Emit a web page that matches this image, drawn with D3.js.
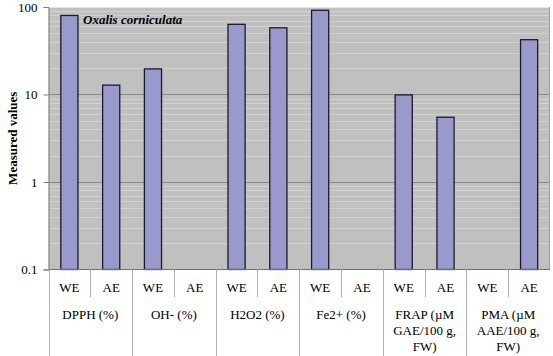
<!DOCTYPE html>
<html><head><meta charset="utf-8">
<script src="https://cdn.jsdelivr.net/npm/d3@7"></script>
<style>body{margin:0;background:#fff;}</style>
</head><body><svg id="c" width="553" height="356"></svg>
<script>
const groups = ["DPPH (%)", "OH- (%)", "H2O2 (%)", "Fe2+ (%)", "FRAP (µM|GAE/100 g,|FW)", "PMA (µM|AAE/100 g,|FW)"];
const extracts = ["WE", "AE"];
const valuesWE = [80, 19.6, 63.4, 91.7, 9.9, null];
const valuesAE = [12.8, null, 57.9, null, 5.5, 42.3];
const yTicks = [0.1, 1, 10, 100];
const title = "Oxalis corniculata";
const yLabel = "Measured values";

const FONT = "Liberation Serif";
const svg = d3.select("#c");
const L = 48.5, R = 550, T = 7, B = 269.5;
const slots = [];
groups.forEach((g, gi) => extracts.forEach((e, ei) => slots.push({g: gi, e, v: ei === 0 ? valuesWE[gi] : valuesAE[gi]})));
const x = d3.scaleBand().domain(d3.range(slots.length)).range([L, R]).paddingInner(0.59).paddingOuter(0.295);
const xs = d3.scaleLinear().domain([0, slots.length]).range([L, R]);
const y = d3.scaleLog().domain([0.1, 100]).range([B, T]);

svg.append("rect").attr("x", L).attr("y", T).attr("width", R - L).attr("height", B - T).attr("fill", "#c0c0c0");
const minors = [];
[0.1, 1, 10].forEach(d => { for (let k = 2; k <= 9; k++) minors.push(d * k); });
svg.append("g").selectAll("line").data(minors).join("line")
  .attr("x1", L).attr("x2", R).attr("y1", d => Math.round(y(d)) + 0.5).attr("y2", d => Math.round(y(d)) + 0.5)
  .attr("stroke", "#d2d2d2").attr("stroke-width", 1);
svg.append("g").selectAll("line").data([1, 10]).join("line")
  .attr("x1", L).attr("x2", R).attr("y1", d => Math.round(y(d)) + 0.5).attr("y2", d => Math.round(y(d)) + 0.5)
  .attr("stroke", "#8a8a8a").attr("stroke-width", 1);
svg.append("line").attr("x1", L).attr("x2", R).attr("y1", T + 0.5).attr("y2", T + 0.5).attr("stroke", "#e6e6e6");
svg.append("line").attr("x1", R - 0.5).attr("x2", R - 0.5).attr("y1", T).attr("y2", B).attr("stroke", "#a0a0a0");

svg.append("g").selectAll("rect").data(slots.map((s, i) => ({...s, i})).filter(s => s.v != null)).join("rect")
  .attr("x", d => x(d.i)).attr("width", x.bandwidth())
  .attr("y", d => y(d.v)).attr("height", d => B - y(d.v))
  .attr("fill", "#9999cc").attr("stroke", "#1a1a2a").attr("stroke-width", 1.3);

const ya = svg.append("g").attr("transform", `translate(${L},0)`)
  .call(d3.axisLeft(y).tickValues(yTicks).tickFormat(d => String(d)).tickSize(5).tickPadding(6));
ya.attr("font-family", FONT).attr("font-size", 13);
ya.select(".domain").attr("stroke", "#808080");
ya.selectAll(".tick line").attr("stroke", "#808080");
ya.selectAll(".tick text").attr("font-family", FONT).attr("font-size", 13).attr("fill", "#000");

svg.append("line").attr("x1", L).attr("x2", R).attr("y1", B).attr("y2", B).attr("stroke", "#707070");

const sep = svg.append("g").attr("stroke", "#b0b0b0");
d3.range(slots.length).forEach(i => {
  const xx = Math.round(xs(i)) + 0.5;
  const isGroup = i % 2 === 0;
  sep.append("line").attr("x1", xx).attr("x2", xx).attr("y1", B).attr("y2", isGroup ? 356 : 297);
});

svg.append("g").selectAll("text").data(slots.map((s, i) => ({...s, i}))).join("text")
  .attr("x", d => xs(d.i + 0.5)).attr("y", 292).attr("text-anchor", "middle")
  .attr("font-family", FONT).attr("font-size", 13).text(d => d.e);

const gl = svg.append("g");
groups.forEach((g, gi) => {
  const t = gl.append("text").attr("text-anchor", "middle").attr("font-family", FONT).attr("font-size", 13);
  g.split("|").forEach((ln, li) => t.append("tspan").attr("x", xs(gi * 2 + 1)).attr("y", 319 + li * 16).text(ln));
});

svg.append("text").attr("x", 83).attr("y", 24).attr("font-family", FONT).attr("font-size", 13).attr("font-weight", "bold").attr("font-style", "italic").text(title);

svg.append("text").attr("transform", `translate(17,${(T + B) / 2}) rotate(-90)`).attr("text-anchor", "middle")
  .attr("font-family", FONT).attr("font-size", 13).attr("font-weight", "bold").text(yLabel);
</script></body></html>
